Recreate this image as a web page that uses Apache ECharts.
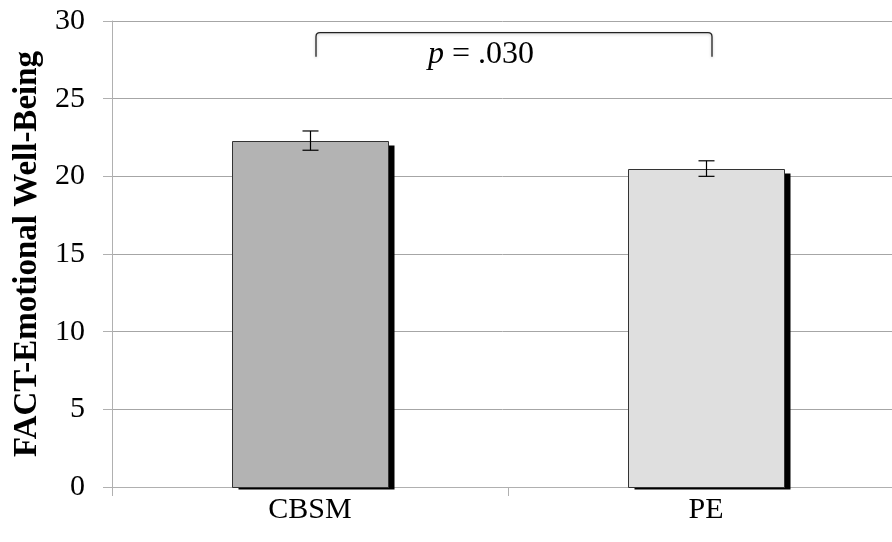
<!DOCTYPE html>
<html><head><meta charset="utf-8">
<script src="https://cdn.jsdelivr.net/npm/echarts@6/dist/echarts.min.js"></script>
<style>html,body{margin:0;padding:0;background:#fff}#c{width:892px;height:542px}</style>
</head><body><div id="c"></div>
<script>
const categories = ['CBSM', 'PE'];
const means = [22.3, 20.5];
const errors = [0.62, 0.5];
const barColors = ['#b3b3b3', '#dfdfdf'];
const yTicks = [0, 5, 10, 15, 20, 25, 30];
const bracket = { from: 0, to: 1, top: 29.25, bottom: 27.7, label: '.030', labelY: 27.85 };

const chart = echarts.init(document.getElementById('c'));
const font = 'Liberation Serif, Times New Roman, serif';

chart.setOption({
  animation: false,
  grid: { left: 112, top: 21, width: 792, bottom: 55, containLabel: false, outerBoundsMode: 'none' },
  xAxis: {
    type: 'category', data: categories,
    axisLine: { lineStyle: { color: '#b0b0b0', width: 1 } },
    axisTick: { show: true, alignWithLabel: false, length: 9, lineStyle: { color: '#b0b0b0' } },
    axisLabel: { color: '#000', fontFamily: font, fontSize: 30, margin: 8 }
  },
  yAxis: {
    type: 'value', min: yTicks[0], max: yTicks[yTicks.length - 1], interval: 5,
    name: 'FACT-Emotional Well-Being', nameLocation: 'middle', nameGap: 66,
    nameTextStyle: { color: '#000', fontFamily: font, fontSize: 33, fontWeight: 'bold' },
    axisLine: { show: true, lineStyle: { color: '#b0b0b0', width: 1 } },
    axisTick: { show: true, length: 9, lineStyle: { color: '#b0b0b0' } },
    axisLabel: { color: '#000', fontFamily: font, fontSize: 30, margin: 27 },
    splitLine: { lineStyle: { color: '#a6a6a6', width: 1 } }
  },
  series: [
    {
      type: 'custom', z: 2,
      data: means.map((v, i) => [i, v]),
      renderItem: function (params, api) {
        const i = api.value(0);
        const top = api.coord([i, api.value(1)]);
        const base = api.coord([i, 0]);
        const bw = api.size([1, 0])[0] * 0.394;
        const x = Math.round(top[0] - bw / 2) + 0.5;
        const y = Math.round(top[1]) + 0.5;
        const h = Math.round(base[1]) - Math.round(top[1]);
        const w = Math.round(bw);
        return { type: 'group', children: [
          { type: 'rect', shape: { x: x + 6, y: y + 4, width: w, height: h - 2 }, style: { fill: '#000' } },
          { type: 'rect', shape: { x: x, y: y, width: w, height: h },
            style: { fill: barColors[i], stroke: '#333', lineWidth: 1 } }
        ]};
      }
    },
    {
      type: 'custom', z: 5,
      data: means.map((v, i) => [i, v - errors[i], v + errors[i]]),
      renderItem: function (params, api) {
        const lo = api.coord([api.value(0), api.value(1)]);
        const hi = api.coord([api.value(0), api.value(2)]);
        const x = Math.round(lo[0]) + 0.5, w = 8;
        const st = { stroke: '#000', lineWidth: 1.2 };
        return { type: 'group', children: [
          { type: 'line', shape: { x1: x, y1: hi[1], x2: x, y2: lo[1] }, style: st },
          { type: 'line', shape: { x1: x - w, y1: hi[1], x2: x + w, y2: hi[1] }, style: st },
          { type: 'line', shape: { x1: x - w, y1: lo[1], x2: x + w, y2: lo[1] }, style: st }
        ]};
      }
    },
    {
      type: 'custom', z: 5,
      data: [[bracket.from, bracket.to, bracket.top, bracket.bottom, bracket.labelY]],
      renderItem: function (params, api) {
        const a = api.coord([api.value(0), api.value(2)]);
        const b = api.coord([api.value(1), api.value(2)]);
        const aB = api.coord([api.value(0), api.value(3)]);
        const t = api.coord([api.value(0), api.value(4)]);
        const off = 6, r = 4;
        const x1 = a[0] + off, x2 = b[0] + off, y = a[1], yb = aB[1];
        const mid = (x1 + x2) / 2;
        return { type: 'group', children: [
          { type: 'path', shape: { pathData:
              `M${x1} ${yb} L${x1} ${y + r} Q${x1} ${y} ${x1 + r} ${y} L${x2 - r} ${y} Q${x2} ${y} ${x2} ${y + r} L${x2} ${yb}` },
            style: { fill: null, stroke: '#222', lineWidth: 1.3, shadowColor: 'rgba(0,0,0,0.25)', shadowBlur: 3, shadowOffsetY: 1 } },
          { type: 'text', x: mid - 33, y: t[1],
            style: { text: '{i|p} = ' + bracket.label, align: 'center', verticalAlign: 'middle',
              fill: '#000', font: '32px ' + font,
              rich: { i: { fontStyle: 'italic', fontFamily: font, fontSize: 32 } } } }
        ]};
      }
    }
  ]
});
</script></body></html>
